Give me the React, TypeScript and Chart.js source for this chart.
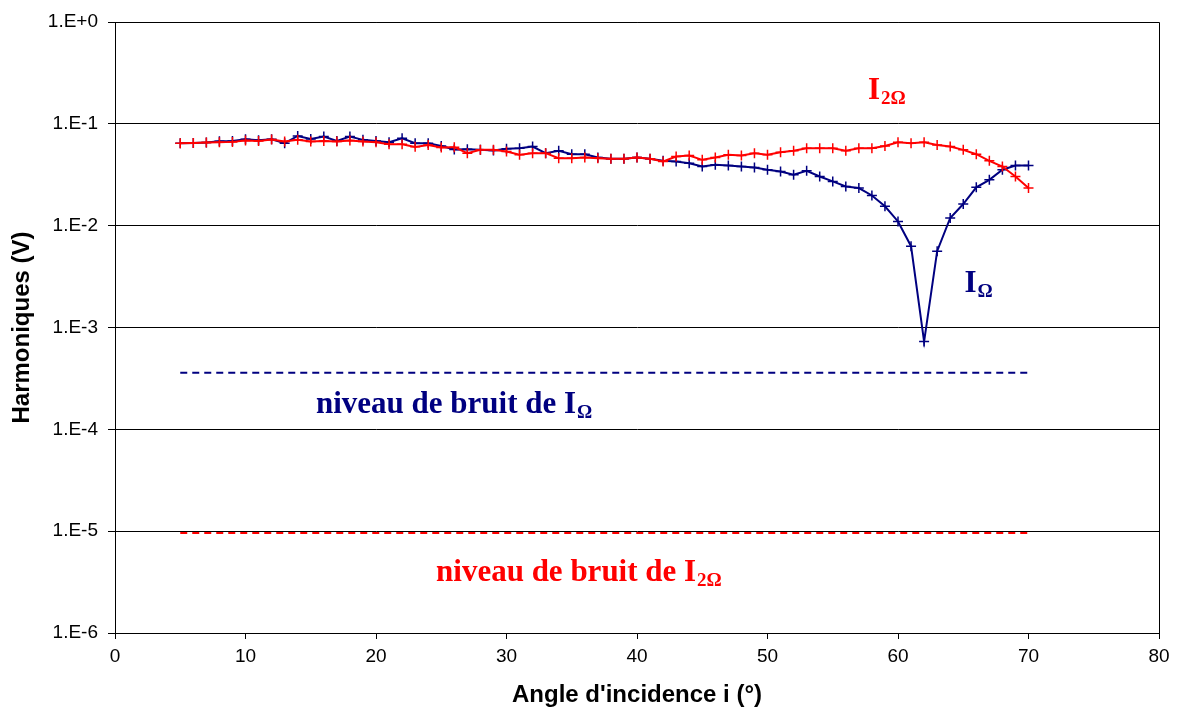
import React, { useEffect, useRef } from "react";
import { Chart, registerables } from "chart.js";

Chart.register(...registerables);

const angles = [
  5, 6, 7, 8, 9, 10, 11, 12, 13, 14, 15, 16, 17, 18, 19, 20, 21, 22, 23, 24, 25, 26,
  27, 28, 29, 30, 31, 32, 33, 34, 35, 36, 37, 38, 39, 40, 41, 42, 43, 44, 45, 46, 47,
  48, 49, 50, 51, 52, 53, 54, 55, 56, 57, 58, 59, 60, 61, 62, 63, 64, 65, 66, 67, 68,
  69, 70,
];

const i2Omega = [
  0.0645, 0.065, 0.0655, 0.066, 0.0665, 0.0685, 0.068, 0.07, 0.067, 0.0696, 0.067,
  0.068, 0.067, 0.0685, 0.067, 0.066, 0.063, 0.063, 0.0594, 0.0621, 0.0585, 0.059,
  0.0515, 0.0555, 0.0555, 0.0535, 0.0496, 0.0515, 0.0515, 0.046, 0.046, 0.0467, 0.046,
  0.0453, 0.0453, 0.0467, 0.0453, 0.0427, 0.0478, 0.0489, 0.0443, 0.0467, 0.0496,
  0.0489, 0.0515, 0.0496, 0.0527, 0.0543, 0.0576, 0.0576, 0.0576, 0.0543, 0.0576,
  0.0576, 0.0607, 0.066, 0.0645, 0.066, 0.0621, 0.0598, 0.0555, 0.0503, 0.0433, 0.0381,
  0.0304, 0.0234,
];

const iOmega = [
  0.0645, 0.065, 0.0655, 0.0675, 0.068, 0.0706, 0.069, 0.0706, 0.0645, 0.076, 0.071,
  0.075, 0.068, 0.075, 0.0696, 0.068, 0.066, 0.072, 0.0645, 0.0645, 0.0607, 0.056,
  0.0563, 0.0555, 0.0547, 0.0568, 0.0576, 0.0598, 0.0515, 0.0543, 0.0503, 0.0503,
  0.0467, 0.0453, 0.0453, 0.0467, 0.0453, 0.0433, 0.0427, 0.0411, 0.0381, 0.0396, 0.039,
  0.0381, 0.0373, 0.0354, 0.034, 0.0316, 0.0346, 0.0304, 0.0272, 0.0243, 0.0234, 0.0198,
  0.0155, 0.011, 0.00629, 0.000728, 0.00562, 0.0119, 0.0163, 0.0238, 0.0282, 0.0354,
  0.039, 0.039,
];

const noiseRange = [5, 70];
const noiseIOmega = 3.6e-4;
const noiseI2Omega = 9.6e-6;

const yTicks = [1e-6, 1e-5, 1e-4, 1e-3, 1e-2, 1e-1, 1];

const NAVY = "#000080";
const RED = "#FF0000";

// Annotations: main text + subscript, anchored in data coordinates
const annotations = [
  { main: "I", sub: "2Ω", x: 57.7, y: 0.176, color: RED },
  { main: "I", sub: "Ω", x: 65.1, y: 0.00223, color: NAVY },
  { main: "niveau de bruit de I", sub: "Ω", x: 15.4, y: 1.45e-4, color: NAVY },
  { main: "niveau de bruit de I", sub: "2Ω", x: 24.6, y: 3.23e-6, color: RED },
];

const annotationPlugin = {
  id: "annots",
  afterDatasetsDraw(chart: any) {
    const { ctx, scales } = chart;
    const xs = scales.x;
    const ys = scales.y;
    ctx.save();
    ctx.textBaseline = "alphabetic";
    ctx.textAlign = "left";
    for (const a of annotations) {
      const px = xs.getPixelForValue(a.x);
      const py = ys.getPixelForValue(a.y);
      ctx.fillStyle = a.color;
      ctx.font = "bold 31px 'Liberation Serif', 'Times New Roman', serif";
      ctx.fillText(a.main, px, py);
      const w = ctx.measureText(a.main).width;
      ctx.font = "bold 19px 'Liberation Serif', 'Times New Roman', serif";
      ctx.fillText(a.sub, px + w + 1, py + 5);
    }
    ctx.restore();
  },
};

const framePlugin = {
  id: "frame",
  afterDraw(chart: any) {
    const { ctx, chartArea } = chart;
    ctx.save();
    ctx.strokeStyle = "#000";
    ctx.lineWidth = 1;
    ctx.beginPath();
    ctx.moveTo(Math.round(chartArea.left) + 0.5, Math.round(chartArea.top) + 0.5);
    ctx.lineTo(Math.round(chartArea.right) + 0.5, Math.round(chartArea.top) + 0.5);
    ctx.lineTo(Math.round(chartArea.right) + 0.5, Math.round(chartArea.bottom) + 0.5);
    ctx.stroke();
    ctx.restore();
  },
};

export default function App() {
  const ref = useRef<HTMLCanvasElement | null>(null);

  useEffect(() => {
    if (!ref.current) return;
    const chart = new Chart(ref.current, {
      type: "line",
      data: {
        datasets: [
          {
            label: "I2Ω",
            data: angles.map((a, i) => ({ x: a, y: i2Omega[i] })),
            borderColor: RED,
            backgroundColor: RED,
            borderWidth: 2,
            pointStyle: "cross",
            pointRadius: 5,
            pointBorderWidth: 1.5,
            pointBorderColor: RED,
            fill: false,
            tension: 0,
          },
          {
            label: "IΩ",
            data: angles.map((a, i) => ({ x: a, y: iOmega[i] })),
            borderColor: NAVY,
            backgroundColor: NAVY,
            borderWidth: 2,
            pointStyle: "cross",
            pointRadius: 5,
            pointBorderWidth: 1.5,
            pointBorderColor: NAVY,
            fill: false,
            tension: 0,
          },
          {
            label: "bruit IΩ",
            data: noiseRange.map((a) => ({ x: a, y: noiseIOmega })),
            borderColor: NAVY,
            borderWidth: 2,
            borderDash: [7, 5],
            pointRadius: 0,
            fill: false,
          },
          {
            label: "bruit I2Ω",
            data: noiseRange.map((a) => ({ x: a, y: noiseI2Omega })),
            borderColor: RED,
            borderWidth: 2,
            borderDash: [7, 5],
            pointRadius: 0,
            fill: false,
          },
        ],
      },
      options: {
        animation: false,
        responsive: false,
        maintainAspectRatio: false,
        layout: { padding: { left: 0, right: 20, top: 22, bottom: 0 } },
        plugins: {
          legend: { display: false },
          tooltip: { enabled: false },
        },
        scales: {
          x: {
            type: "linear",
            min: 0,
            max: 80,
            afterFit: (s: any) => {
              s.height = 76;
            },
            ticks: {
              stepSize: 10,
              color: "#000",
              padding: 6,
              maxRotation: 0,
              font: { family: "'Liberation Sans', Arial, sans-serif", size: 19 },
            },
            grid: {
              drawOnChartArea: false,
              drawTicks: true,
              tickLength: 6,
              color: "#000",
            },
            border: { display: true, color: "#000", width: 1 },
            title: {
              display: true,
              text: "Angle d'incidence i (°)",
              color: "#000",
              padding: { top: 0, bottom: -1 },
              font: { family: "'Liberation Sans', Arial, sans-serif", size: 24, weight: "bold" },
            },
          },
          y: {
            type: "logarithmic",
            min: 1e-6,
            max: 1,
            afterFit: (s: any) => {
              s.width = 115;
            },
            afterBuildTicks: (s: any) => {
              s.ticks = yTicks.map((v) => ({ value: v }));
            },
            ticks: {
              color: "#000",
              padding: 10,
              font: { family: "'Liberation Sans', Arial, sans-serif", size: 19 },
              callback: (value: any) => {
                const e = Math.round(Math.log10(Number(value)));
                return "1.E" + (e >= 0 ? "+" : "") + e;
              },
            },
            grid: {
              color: "#000",
              lineWidth: 1,
              drawTicks: true,
              tickLength: 7,
            },
            border: { display: true, color: "#000", width: 1 },
            title: {
              display: true,
              text: "Harmoniques (V)",
              color: "#000",
              padding: { top: 8, bottom: 0 },
              font: { family: "'Liberation Sans', Arial, sans-serif", size: 24, weight: "bold" },
            },
          },
        },
      },
      plugins: [annotationPlugin, framePlugin],
    });
    return () => chart.destroy();
  }, []);

  return (
    <div style={{ position: "fixed", left: 0, top: 0, width: 1179, height: 709, background: "#fff" }}>
      <canvas ref={ref} width={1179} height={709} />
    </div>
  );
}
